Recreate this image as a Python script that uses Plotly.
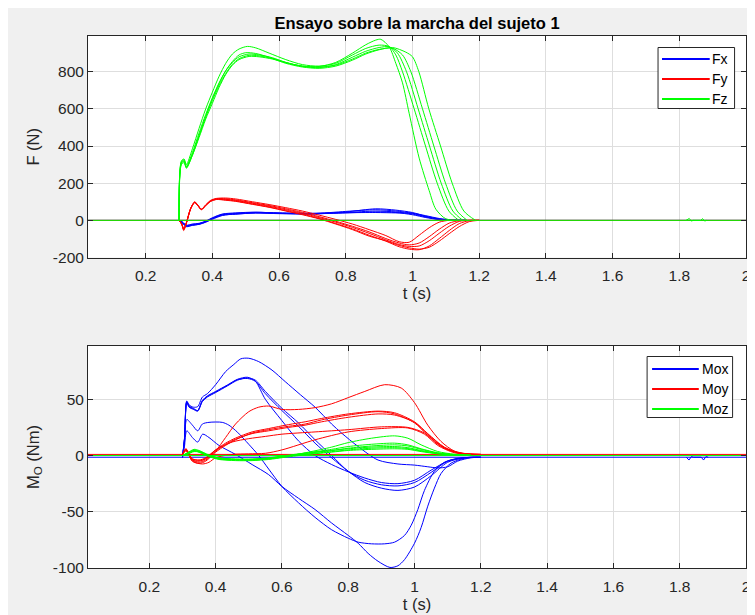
import plotly.graph_objects as go

# ---------------- data ----------------
# Top subplot: ground-reaction forces (N), 5 trials each (active stance phase)
FX_T = [0.300, 0.310, 0.322, 0.340, 0.360, 0.380, 0.400, 0.430, 0.470, 0.530, 0.600, 0.700,
        0.800, 0.890, 0.950, 1.000, 1.040, 1.080, 1.120, 1.160]
FX_V = [
    [0, -15, -32, -26, -22, -10, 8, 28, 33, 40, 37, 34, 45, 62, 55, 42, 22, 8, 1, 0],
    [0, -12, -30, -24, -19, -7, 10, 30, 36, 42, 38, 36, 48, 57, 50, 38, 20, 6, 0, 0],
    [0, -10, -28, -22, -18, -6, 12, 32, 38, 43, 40, 38, 42, 50, 45, 34, 18, 5, 0, 0],
    [0, -14, -34, -27, -21, -9, 6, 26, 34, 39, 36, 35, 40, 45, 42, 30, 15, 4, 0, 0],
    [0, -8, -26, -20, -16, -4, 14, 34, 40, 44, 39, 37, 41, 42, 40, 38, 25, 10, 2, 0],
]

FY_T = [0.300, 0.308, 0.314, 0.322, 0.335, 0.347, 0.357, 0.367, 0.380, 0.395, 0.412, 0.440,
        0.470, 0.520, 0.570, 0.620, 0.670, 0.720, 0.770, 0.820, 0.870, 0.920, 0.960, 0.990,
        1.020, 1.050, 1.080, 1.110, 1.140, 1.170, 1.200]
FY_V = [
    [0, -22, -55, -15, 65, 100, 80, 60, 84, 108, 118, 120, 115, 100, 85, 68, 50, 28, 5, -20, -50, -82,
     -115, -118, -80, -40, -10, 0, 0, 0, 0],
    [0, -20, -50, -14, 63, 98, 78, 58, 82, 105, 116, 116, 110, 95, 80, 62, 43, 20, -5, -32, -62, -98,
     -122, -132, -122, -88, -48, -15, -2, 0, 0],
    [0, -18, -46, -12, 66, 96, 80, 60, 80, 104, 114, 113, 107, 92, 76, 57, 38, 15, -10, -38, -70, -105,
     -130, -140, -138, -110, -70, -32, -6, 0, 0],
    [0, -21, -48, -16, 62, 97, 79, 59, 81, 103, 113, 110, 104, 88, 72, 52, 33, 10, -17, -46, -80, -112,
     -142, -155, -158, -138, -98, -55, -18, -2, 0],
    [0, -19, -44, -13, 64, 95, 77, 57, 79, 102, 112, 108, 102, 86, 70, 50, 30, 8, -20, -50, -85, -110,
     -135, -148, -155, -145, -112, -72, -34, -7, 0],
]

FZ_T = [
    [0.300, 0.307, 0.315, 0.322, 0.34, 0.36, 0.38, 0.40, 0.42, 0.44, 0.46, 0.48, 0.50, 0.53, 0.57, 0.62,
     0.67, 0.72, 0.77, 0.82, 0.86, 0.89, 0.905, 0.93, 0.95, 0.97, 0.99, 1.02, 1.05, 1.07, 1.10, 1.13],
    [0.300, 0.307, 0.315, 0.322, 0.34, 0.36, 0.38, 0.40, 0.42, 0.44, 0.46, 0.48, 0.505, 0.53, 0.57, 0.62,
     0.67, 0.72, 0.77, 0.82, 0.86, 0.90, 0.93, 0.95, 0.97, 1.005, 1.039, 1.074, 1.109, 1.139],
    [0.300, 0.307, 0.315, 0.322, 0.34, 0.36, 0.38, 0.40, 0.42, 0.44, 0.46, 0.48, 0.51, 0.54, 0.58, 0.62,
     0.67, 0.72, 0.77, 0.82, 0.86, 0.90, 0.93, 0.955, 0.982, 1.017, 1.051, 1.086, 1.121, 1.151],
    [0.300, 0.307, 0.315, 0.322, 0.34, 0.36, 0.38, 0.40, 0.42, 0.44, 0.46, 0.48, 0.51, 0.54, 0.58, 0.62,
     0.67, 0.72, 0.77, 0.82, 0.86, 0.90, 0.94, 0.97, 0.995, 1.03, 1.064, 1.099, 1.134, 1.164],
    [0.300, 0.307, 0.315, 0.322, 0.34, 0.36, 0.38, 0.40, 0.42, 0.44, 0.46, 0.48, 0.51, 0.54, 0.58, 0.62,
     0.67, 0.72, 0.77, 0.82, 0.86, 0.90, 0.94, 0.98, 1.0, 1.019, 1.049, 1.084, 1.119, 1.154, 1.189],
]
FZ_V = [
    [0, 310, 320, 285, 350, 455, 560, 655, 735, 805, 855, 890, 902, 898, 878, 850, 830, 828, 850, 900,
     945, 970, 974, 934, 845, 740, 576, 335, 160, 60, 8, 0],
    [0, 320, 330, 300, 385, 495, 600, 690, 775, 845, 895, 922, 936, 928, 900, 865, 838, 830, 845, 890,
     925, 943, 935, 890, 800, 600, 400, 200, 50, 0],
    [0, 315, 325, 290, 365, 470, 570, 660, 740, 805, 850, 880, 895, 890, 875, 850, 828, 822, 838, 878,
     910, 930, 934, 900, 800, 600, 400, 200, 50, 0],
    [0, 300, 310, 280, 350, 445, 545, 630, 715, 785, 835, 865, 882, 880, 868, 848, 830, 825, 835, 868,
     900, 920, 926, 890, 800, 600, 400, 200, 50, 0],
    [0, 305, 318, 285, 355, 455, 555, 645, 725, 790, 840, 870, 888, 885, 870, 845, 825, 818, 830, 862,
     895, 918, 930, 905, 880, 800, 600, 400, 200, 50, 0],
]

# baselines (signal at rest) and the two small blips near t = 1.83 s / 1.87 s
F_BASE_T = [0.027, 2.0]
FX_BASE_V = [0, 0]
FY_BASE_V = [0, 0]
FZ_BASE_V = [0, 0]
FZ_BLIP_T = [1.82, 1.83, 1.836, 1.842, 1.864, 1.87, 1.876, 1.882]
FZ_BLIP_V = [0, 10, -4, 0, 0, 9, -4, 0]

# Bottom subplot: moments about O (Nm), 6 trials each
MOX_T = [
    [0.300, 0.306, 0.313, 0.320, 0.333, 0.346, 0.360, 0.375, 0.40, 0.43, 0.455, 0.476, 0.50, 0.53, 0.57,
     0.61, 0.656, 0.70, 0.75, 0.78, 0.83, 0.89, 0.95, 1.0, 1.04, 1.07, 1.10, 1.13, 1.17, 1.20],
    [0.300, 0.306, 0.313, 0.320, 0.333, 0.346, 0.360, 0.375, 0.40, 0.436, 0.466, 0.496, 0.52, 0.55, 0.60,
     0.65, 0.70, 0.75, 0.80, 0.85, 0.90, 0.95, 1.0, 1.05, 1.10, 1.15, 1.20],
    [0.300, 0.306, 0.313, 0.320, 0.333, 0.346, 0.360, 0.375, 0.40, 0.436, 0.466, 0.496, 0.52, 0.55, 0.60,
     0.65, 0.70, 0.75, 0.80, 0.85, 0.90, 0.95, 1.0, 1.05, 1.10, 1.15, 1.20],
    [0.300, 0.306, 0.313, 0.320, 0.333, 0.346, 0.360, 0.375, 0.40, 0.436, 0.466, 0.496, 0.52, 0.55, 0.60,
     0.65, 0.70, 0.75, 0.80, 0.85, 0.90, 0.95, 1.0, 1.05, 1.10, 1.15, 1.20],
    [0.300, 0.306, 0.313, 0.330, 0.346, 0.361, 0.380, 0.410, 0.460, 0.510, 0.560, 0.600, 0.650, 0.700,
     0.750, 0.800, 0.830, 0.860, 0.890, 0.926, 0.950, 0.970, 1.000, 1.020, 1.040, 1.060, 1.080, 1.110,
     1.150, 1.190],
    [0.300, 0.306, 0.313, 0.330, 0.346, 0.360, 0.380, 0.420, 0.440, 0.466, 0.500, 0.530, 0.560, 0.600,
     0.650, 0.700, 0.750, 0.800, 0.830, 0.870, 0.910, 0.940, 0.970, 0.990, 1.010, 1.030, 1.060, 1.090,
     1.130, 1.180],
]
MOX_V = [
    [-1.5, 15, 48.5, 45, 43, 43.5, 52, 55, 63, 74.6, 81, 86, 86.5, 83.5, 76, 65.7, 54, 43, 28, 20, 8, -4,
     -7.5, -8.5, -10, -11, -10, -5, -2, -1.5],
    [-1.5, 15, 48, 44, 42, 40, 49, 53, 57, 62.8, 67.8, 69.6, 66, 50, 31, 13, 0, -8, -14.5, -20, -24, -25,
     -22, -13, -5, -2, -1.5],
    [-1.5, 14, 47, 43, 41, 39.5, 48, 52, 56, 62, 67, 69, 67, 57, 42, 29, 14, 0, -14, -22, -26, -27, -24,
     -15, -5, -2, -1.5],
    [-1.5, 14, 47.5, 43.5, 41.5, 40, 48.5, 52.5, 56.5, 62.5, 67.5, 68.5, 66, 55, 40, 26, 11, -2, -14, -24,
     -29, -31, -28, -18, -6, -2, -1.5],
    [-1.5, 8, 22, 16, 12, 19, 16, 9, 1, -8, -17, -27.5, -38, -48, -60, -71, -78, -87, -94, -99.5, -98,
     -92.5, -78, -64, -45, -29, -16, -6.8, -2.5, -1.5],
    [-1.5, 12, 32, 27, 22, 28, 29.5, 29.5, 27, 20.7, 10, 0, -12, -27.5, -42, -55, -66, -73.5, -77, -78.5,
     -78.5, -77, -71, -62, -48, -31, -14, -6, -2.5, -1.5],
]

MOY_T = [
    [0.300, 0.310, 0.330, 0.350, 0.370, 0.400, 0.430, 0.460, 0.500, 0.530, 0.560, 0.600, 0.650, 0.700,
     0.750, 0.800, 0.850, 0.910, 0.960, 1.000, 1.040, 1.080, 1.120, 1.160, 1.200],
    [0.300, 0.310, 0.330, 0.350, 0.370, 0.400, 0.430, 0.460, 0.510, 0.560, 0.620, 0.670, 0.720, 0.800,
     0.890, 0.940, 1.000, 1.040, 1.090, 1.140, 1.200],
    [0.300, 0.310, 0.330, 0.350, 0.370, 0.400, 0.430, 0.460, 0.510, 0.560, 0.620, 0.670, 0.720, 0.800,
     0.890, 0.940, 1.000, 1.040, 1.090, 1.140, 1.200],
    [0.300, 0.310, 0.330, 0.350, 0.370, 0.400, 0.430, 0.460, 0.510, 0.560, 0.620, 0.670, 0.720, 0.800,
     0.890, 0.940, 1.000, 1.040, 1.090, 1.140, 1.200],
    [0.300, 0.310, 0.330, 0.360, 0.380, 0.400, 0.450, 0.500, 0.550, 0.600, 0.700, 0.800, 0.900, 0.980,
     1.030, 1.070, 1.120, 1.170],
    [0.300, 0.310, 0.330, 0.360, 0.380, 0.400, 0.450, 0.500, 0.550, 0.600, 0.700, 0.800, 0.900, 0.980,
     1.030, 1.070, 1.120, 1.170],
]
MOY_V = [
    [1, 6, -4, -6, -4, 4, 16, 28, 39, 43, 44, 41, 41, 42.6, 46, 51.5, 57, 63, 60, 47, 27, 12.5, 4, 1.5, 1],
    [1, 5, -5, -7, -5, 3, 9, 14, 20, 23, 26, 28, 31.7, 36, 39, 37, 29, 18, 6.5, 2, 1],
    [1, 5, -3, -4, -2, 5, 11, 15.5, 21, 24, 27.5, 30, 33, 37, 39.5, 38, 30, 19.5, 7.5, 2.2, 1],
    [1, 4, -4, -5, -3, 4, 10, 14.5, 19.5, 22, 25, 27, 30, 34, 37, 36, 29.5, 19, 7, 2, 1],
    [1, 6, -3, -4, 0, 5, 12, 15, 17, 19, 21, 23, 25.5, 25, 20, 10, 3, 1],
    [1, 5, -5, -7.5, -6, -2, 1, 1.5, 2, 5, 14, 21, 24, 24.5, 19, 9, 2.5, 1],
]

MOZ_T = [0.300, 0.315, 0.335, 0.350, 0.380, 0.410, 0.460, 0.510, 0.560, 0.610, 0.680, 0.750, 0.800,
         0.870, 0.940, 0.980, 1.020, 1.070, 1.120, 1.170]
MOZ_V = [
    [0, 2, 5, 4, 0, -3, -3.8, -3.8, -3, -1, 3, 7.5, 11.5, 15.4, 17.5, 15.4, 9.5, 3.6, 1.2, 0.3],
    [0, 2, 4, 3.5, 0, -2.5, -3.5, -3.5, -2.5, -0.5, 2.5, 5.5, 8, 10, 11, 9.5, 6, 2.5, 0.8, 0.2],
    [0, 1.5, 4.5, 3, -0.5, -3, -4, -4, -3, -1, 2, 4.5, 6.5, 8.5, 9.5, 8.5, 5.5, 2.2, 0.7, 0.2],
    [0, 2.5, 5.5, 4.5, 0.5, -2, -3, -3, -2, 0, 2.5, 4.5, 6, 7.5, 8, 7, 4.5, 2, 0.6, 0.2],
    [0, 1, 3.5, 3, -1, -3.5, -4.5, -4.5, -3.5, -1.5, 1, 3, 4.5, 5.5, 6, 5.5, 3.5, 1.5, 0.5, 0.1],
    [0, 2, 4, 3.5, 0, -2.5, -3.5, -3.5, -2.5, -0.5, 1.5, 3.5, 5, 6.5, 7, 6.2, 4, 1.8, 0.6, 0.2],
]

M_BASE_T = [0.015, 2.0]
MOX_BASE_V = [-1.5, -1.5]
MOY_BASE_V = [1, 1]
MOZ_BASE_V = [0, 0]
MOX_BLIP_T = [1.82, 1.828, 1.835, 1.842, 1.865, 1.872, 1.879, 1.886]
MOX_BLIP_V = [-1.5, -4, -1, -1.5, -1.5, -4, -1, -1.5]

X_TICKS = [0.2, 0.4, 0.6, 0.8, 1.0, 1.2, 1.4, 1.6, 1.8, 2.0]
X_TICKTEXT = ["0.2", "0.4", "0.6", "0.8", "1", "1.2", "1.4", "1.6", "1.8", "2"]
F_TICKS = [-200, 0, 200, 400, 600, 800]
F_TICKTEXT = ["-200", "0", "200", "400", "600", "800"]
M_TICKS = [-100, -50, 0, 50]
M_TICKTEXT = ["-100", "-50", "0", "50"]

TITLE = "Ensayo sobre la marcha del sujeto 1"
F_LEGEND = ["Fx", "Fy", "Fz"]
M_LEGEND = ["Mox", "Moy", "Moz"]

# ---------------- figure ----------------
BLUE, RED, GREEN = "#0000ff", "#ff0000", "#00ff00"
COLORS = [BLUE, RED, GREEN]
FONT = "Liberation Sans, Arial, Helvetica, sans-serif"
AX = "#262626"

fig = go.Figure()


def add_series(name, ts, vs, base_t, base_v, color, xa, ya, blip=None):
    for i, v in enumerate(vs):
        t = ts[i] if isinstance(ts[0], list) else ts
        fig.add_trace(go.Scatter(
            x=t, y=v, mode="lines", name=name, showlegend=False,
            line=dict(color=color, width=1, shape="spline", smoothing=0.8),
            xaxis=xa, yaxis=ya, hoverinfo="skip"))
    fig.add_trace(go.Scatter(
        x=base_t, y=base_v, mode="lines", name=name, showlegend=False,
        line=dict(color=color, width=1), xaxis=xa, yaxis=ya, hoverinfo="skip"))
    if blip is not None:
        fig.add_trace(go.Scatter(
            x=blip[0], y=blip[1], mode="lines", name=name, showlegend=False,
            line=dict(color=color, width=1), xaxis=xa, yaxis=ya, hoverinfo="skip"))


add_series("Fx", FX_T, FX_V, F_BASE_T, FX_BASE_V, BLUE, "x", "y")
add_series("Fy", FY_T, FY_V, F_BASE_T, FY_BASE_V, RED, "x", "y")
add_series("Fz", FZ_T, FZ_V, F_BASE_T, FZ_BASE_V, GREEN, "x", "y", (FZ_BLIP_T, FZ_BLIP_V))
add_series("Mox", MOX_T, MOX_V, M_BASE_T, MOX_BASE_V, BLUE, "x2", "y2", (MOX_BLIP_T, MOX_BLIP_V))
add_series("Moy", MOY_T, MOY_V, M_BASE_T, MOY_BASE_V, RED, "x2", "y2")
add_series("Moz", MOZ_T, MOZ_V, M_BASE_T, MOZ_BASE_V, GREEN, "x2", "y2")

# geometry (figure coordinates; the page adds an 8 px offset)
W, H = 747, 607
L, R, T, B = 80, 742, 28, 560


def px(xp):
    return (xp - L) / (R - L)


def py(yp):
    return (B - yp) / (B - T)


axis_common = dict(
    showgrid=True, gridcolor="#dedede", gridwidth=1,
    showline=True, linecolor=AX, linewidth=1, mirror="ticks",
    ticks="inside", ticklen=5, tickcolor=AX, tickwidth=1,
    zeroline=False, tickfont=dict(family=FONT, size=15.5, color=AX),
    fixedrange=True,
)
title_font = dict(family=FONT, size=16.5, color=AX)

# hand-drawn MATLAB-style legends (box, line samples, labels)
shapes, annotations = [], []


def legend_box(labels, x0, x1, y0, y1, line_x0, line_x1, text_x, rows):
    shapes.append(dict(type="rect", xref="paper", yref="paper", x0=px(x0), x1=px(x1),
                       y0=py(y1), y1=py(y0), fillcolor="white",
                       line=dict(color=AX, width=1), layer="above"))
    for lab, col, yr in zip(labels, COLORS, rows):
        shapes.append(dict(type="line", xref="paper", yref="paper", x0=px(line_x0), x1=px(line_x1),
                           y0=py(yr), y1=py(yr), line=dict(color=col, width=2), layer="above"))
        annotations.append(dict(text=lab, xref="paper", yref="paper", x=px(text_x), y=py(yr),
                                xanchor="right", yanchor="middle", showarrow=False,
                                font=dict(family=FONT, size=14, color="#000000")))


legend_box(F_LEGEND, 653.5, 730.5, 39.5, 100.5, 657.5, 705.5, 725.5, [51, 71, 91])
legend_box(M_LEGEND, 642.5, 728.5, 348.5, 409.5, 647.5, 694.5, 725.5, [361, 381, 401])

fig.update_layout(
    width=W, height=H,
    margin=dict(l=L, r=W - R, t=T, b=H - B),
    paper_bgcolor="#f0f0f0", plot_bgcolor="white",
    font=dict(family=FONT, size=14, color=AX),
    showlegend=False,
    title=dict(text="<b>" + TITLE + "</b>", x=px(411), xref="paper", xanchor="center",
               y=1 - 15 / H, yref="container", yanchor="middle",
               font=dict(family=FONT, size=16.5, color="#000000")),
    xaxis=dict(axis_common, domain=[0, 1], anchor="y", range=[0.027, 2.0],
               tickvals=X_TICKS, ticktext=X_TICKTEXT, ticklabelstandoff=4,
               title=dict(text="t (s)", standoff=4, font=title_font)),
    yaxis=dict(axis_common, domain=[py(249.5), 1], anchor="x", range=[-200, 992],
               tickvals=F_TICKS, ticktext=F_TICKTEXT, ticklabelstandoff=0,
               title=dict(text="F (N)", standoff=9, font=title_font)),
    xaxis2=dict(axis_common, domain=[0, 1], anchor="y2", range=[0.015, 2.0],
                tickvals=X_TICKS, ticktext=X_TICKTEXT, ticklabelstandoff=4,
                title=dict(text="t (s)", standoff=4, font=title_font)),
    yaxis2=dict(axis_common, domain=[0, py(338)], anchor="x2", range=[-100, 97.4],
                tickvals=M_TICKS, ticktext=M_TICKTEXT, ticklabelstandoff=0,
                title=dict(text="M<sub>O</sub> (Nm)", standoff=9, font=title_font)),
    shapes=shapes,
    annotations=annotations,
)

fig.write_html("out.html")
